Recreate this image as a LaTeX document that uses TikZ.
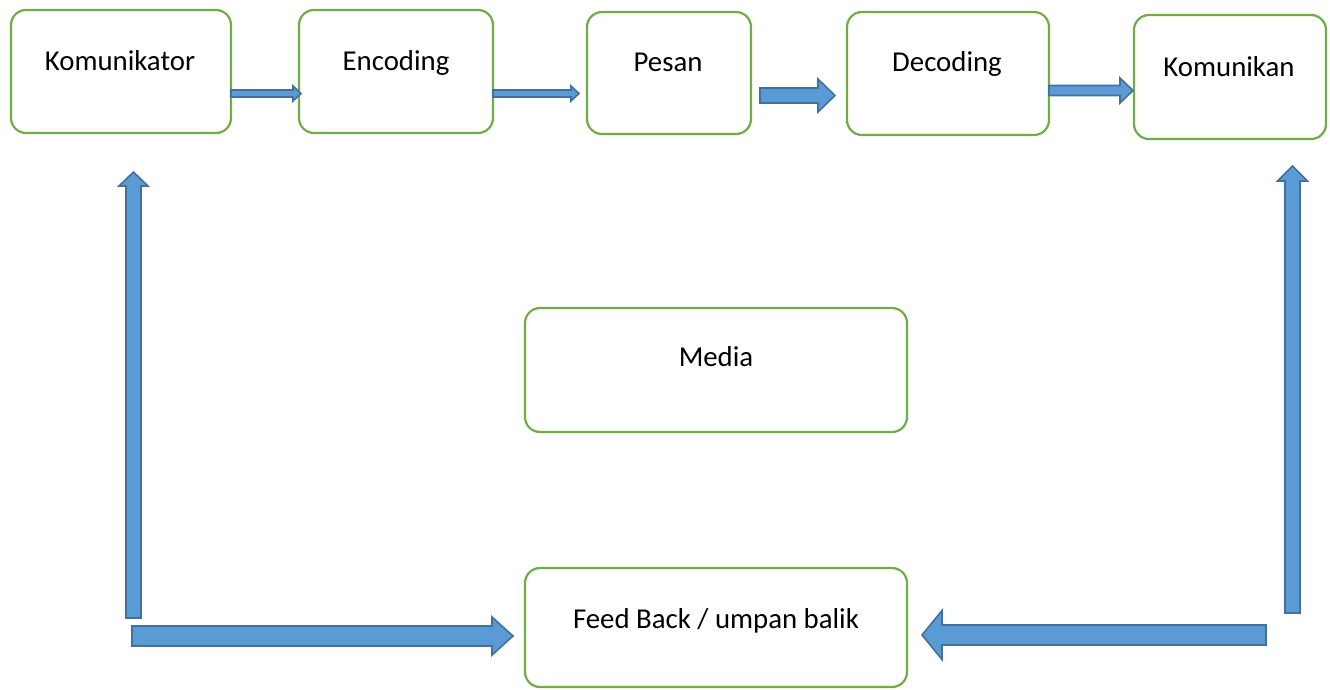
\documentclass[tikz,border=0pt]{standalone}
\usepackage{fontspec}
\setmainfont{Carlito}
\definecolor{boxgreen}{HTML}{70AD47}
\definecolor{arrfill}{HTML}{5B9BD5}
\definecolor{arrline}{HTML}{41719C}
\newcommand\harrowshape[6]{%
  \path[blockarrow] (#1,{#3-#4}) -- (#6,{#3-#4}) -- (#6,{#3-#5}) -- (#2,#3)
    -- (#6,{#3+#5}) -- (#6,{#3+#4}) -- (#1,{#3+#4}) -- cycle;}
\newcommand\varrowshape[6]{%
  \path[blockarrow] ({#3-#4},#1) -- ({#3-#4},#6) -- ({#3-#5},#6) -- (#3,#2)
    -- ({#3+#5},#6) -- ({#3+#4},#6) -- ({#3+#4},#1) -- cycle;}
\begin{document}
\begin{tikzpicture}[x=1pt,y=-1pt,
  box/.style={draw=boxgreen,line width=2.2pt,rounded corners=15pt,fill=white},
  lbl/.style={font=\fontsize{28.8}{34}\selectfont,inner sep=0pt,anchor=base},
  blockarrow/.style={fill=arrfill,draw=arrline,line width=1.6pt,line join=miter}]
\useasboundingbox (0,0) rectangle (1330,689);
% boxes
\draw[box] (11,10) rectangle (231,133);
\draw[box] (299,10) rectangle (493,133);
\draw[box] (587,12) rectangle (751,134);
\draw[box] (847,12) rectangle (1049,135);
\draw[box] (1134,15) rectangle (1326,139);
\draw[box] (525,308) rectangle (907,432);
\draw[box] (525,568) rectangle (907,687);
% labels
\node[lbl] (tkom) at (120,70) {Komunikator};
\node[lbl] (tenc) at (396,70) {Encoding};
\node[lbl] (tpes) at (668,71) {Pesan};
\node[lbl] (tdec) at (947,71) {Decoding};
\node[lbl] (tkmn) at (1229,76) {Komunikan};
\node[lbl] (tmed) at (716,366) {Media};
\node[lbl] (tfb) at (716,628) {Feed Back / umpan balik};
% block arrows
\harrowshape{231}{301}{93.5}{3.5}{7.5}{293}
\harrowshape{493}{579}{93.5}{3.5}{7.5}{571}
\harrowshape{760}{835}{95.5}{7.5}{16.5}{818}
\harrowshape{1049}{1133}{90.5}{5}{12.5}{1120}
\varrowshape{618}{172}{133.5}{7.5}{14.5}{186}
\harrowshape{132}{513}{636}{10}{19}{492}
\harrowshape{1266}{922}{635}{10}{24.5}{942}
\varrowshape{613}{166}{1292.5}{7.5}{15}{181}
\end{tikzpicture}
\end{document}
